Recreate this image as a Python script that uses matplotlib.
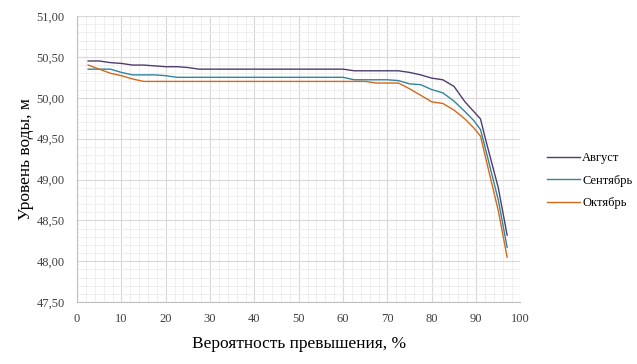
import matplotlib.pyplot as plt
from matplotlib.ticker import MultipleLocator, FuncFormatter

# Exceedance probability, %
prob = [2.5, 5, 7.5, 10, 12.5, 15, 17.5, 20, 22.5, 25, 27.5, 30, 35, 40, 45,
        50, 55, 60, 62.5, 65, 67.5, 70, 72.5, 75, 77.5, 80, 82.5, 85, 87.5,
        89.5, 91, 92, 95, 97]

august = [50.45, 50.45, 50.43, 50.42, 50.40, 50.40, 50.39, 50.38, 50.38,
          50.37, 50.35, 50.35, 50.35, 50.35, 50.35, 50.35, 50.35, 50.35,
          50.33, 50.33, 50.33, 50.33, 50.33, 50.31, 50.28, 50.24, 50.22,
          50.14, 49.95, 49.83, 49.74, 49.52, 48.90, 48.32]

september = [50.35, 50.35, 50.35, 50.31, 50.28, 50.28, 50.28, 50.27, 50.25,
             50.25, 50.25, 50.25, 50.25, 50.25, 50.25, 50.25, 50.25, 50.25,
             50.22, 50.22, 50.22, 50.22, 50.21, 50.17, 50.16, 50.10, 50.06,
             49.96, 49.83, 49.72, 49.61, 49.40, 48.75, 48.17]

october = [50.40, 50.35, 50.30, 50.27, 50.23, 50.20, 50.20, 50.20, 50.20,
           50.20, 50.20, 50.20, 50.20, 50.20, 50.20, 50.20, 50.20, 50.20,
           50.20, 50.20, 50.18, 50.18, 50.18, 50.11, 50.03, 49.95, 49.93,
           49.85, 49.74, 49.63, 49.53, 49.30, 48.62, 48.05]

plt.rcParams['font.family'] = ['Liberation Serif', 'DejaVu Serif']

fig = plt.figure(figsize=(6.37, 3.64), dpi=100)
ax = fig.add_axes([0.121, 0.170, 0.696, 0.786])

ax.plot(prob, august, color='#4f3d6e', lw=1.0, label='Август')
ax.plot(prob, september, color='#31849b', lw=1.0, label='Сентябрь')
ax.plot(prob, october, color='#d2691e', lw=1.0, label='Октябрь')

ax.set_xlim(0, 100)
ax.set_ylim(47.5, 51.0)
ax.xaxis.set_major_locator(MultipleLocator(10))
ax.xaxis.set_minor_locator(MultipleLocator(2))
ax.yaxis.set_major_locator(MultipleLocator(0.5))
ax.yaxis.set_minor_locator(MultipleLocator(0.1))
ax.yaxis.set_major_formatter(FuncFormatter(lambda v, p: f'{v:.2f}'.replace('.', ',')))

ax.grid(which='major', color='#d9d9d9', lw=0.8)
ax.grid(which='minor', color='#efefef', lw=0.7)
ax.set_axisbelow(True)
for side in ['top', 'right']:
    ax.spines[side].set_visible(False)
for side in ['left', 'bottom']:
    ax.spines[side].set_color('#bfbfbf')
ax.tick_params(which='both', length=0, labelsize=9, colors='#404040')
ax.tick_params(axis='y', pad=9)
ax.tick_params(axis='x', pad=8)

ax.set_xlabel('Вероятность превышения, %', fontsize=12.5, labelpad=8)
ax.set_ylabel('Уровень воды, м', fontsize=12.5, labelpad=2)

ax.legend(loc='center left', bbox_to_anchor=(1.035, 0.425), frameon=False,
          fontsize=9, handlelength=2.6, handletextpad=0.2, labelspacing=0.85)

fig.savefig('out.png', dpi=100)
